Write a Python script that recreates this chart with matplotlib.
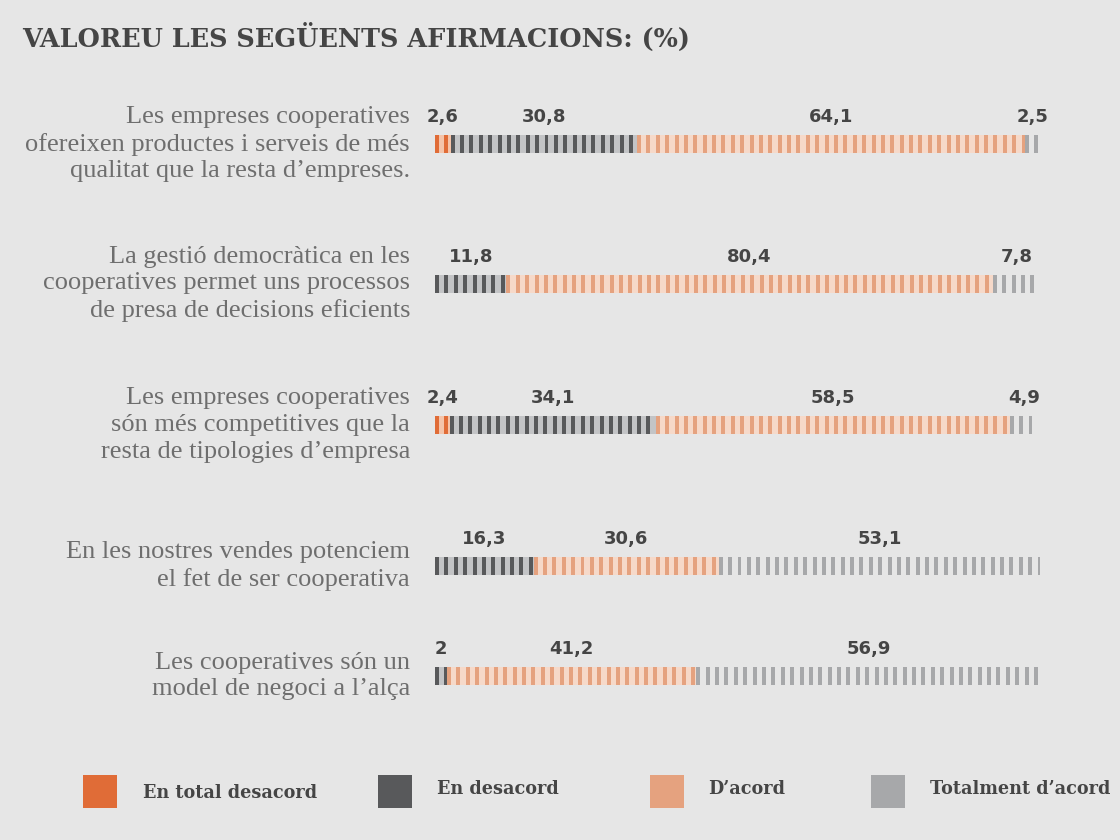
import numpy as np
import matplotlib
import matplotlib.pyplot as plt

matplotlib.use("Agg")

TITLE = "VALOREU LES SEGÜENTS AFIRMACIONS: (%)"

statements = [
    "Les empreses cooperatives\nofereixen productes i serveis de més\nqualitat que la resta d’empreses.",
    "La gestió democràtica en les\ncooperatives permet uns processos\nde presa de decisions eficients",
    "Les empreses cooperatives\nsón més competitives que la\nresta de tipologies d’empresa",
    "En les nostres vendes potenciem\nel fet de ser cooperativa",
    "Les cooperatives són un\nmodel de negoci a l’alça",
]

categories = ["En total desacord", "En desacord", "D’acord", "Totalment d’acord"]

# one list per category, one value per statement (None = not shown)
total_desacord = [2.6, None, 2.4, None, None]
desacord = [30.8, 11.8, 34.1, 16.3, 2]
acord = [64.1, 80.4, 58.5, 30.6, 41.2]
totalment = [2.5, 7.8, 4.9, 53.1, 56.9]

value_labels = [
    ["2,6", None, "2,4", None, None],
    ["30,8", "11,8", "34,1", "16,3", "2"],
    ["64,1", "80,4", "58,5", "30,6", "41,2"],
    ["2,5", "7,8", "4,9", "53,1", "56,9"],
]

colors = ["#e06c37", "#58595b", "#e5a27f", "#a7a8aa"]
tints = ["#f4c4aa", "#c3c4c6", "#f6d9c9", "#dcdcdc"]
BG = "#e6e6e6"
TEXT = "#454545"

# layout (pixels)
W, H = 1120, 840
BAR_X0, BAR_X1 = 435, 1040
row_y = [144, 284, 425, 566, 676]
BAR_H = 18
PERIOD = 1.55   # stripe period in %
STRIPE = 0.66   # stripe width in %

fig = plt.figure(figsize=(W / 100, H / 100), dpi=100, facecolor=BG)
ax = fig.add_axes([BAR_X0 / W, 0, (BAR_X1 - BAR_X0) / W, 1])
ax.set_xlim(0, 100)
ax.set_ylim(H, 0)
ax.axis("off")

series = [total_desacord, desacord, acord, totalment]

for i, y in enumerate(row_y):
    left = 0.0
    for c, vals in enumerate(series):
        v = vals[i]
        if v is None:
            continue
        tint = BG if c == 3 else tints[c]
        ax.barh(y, v, left=left, height=BAR_H, color=tint, linewidth=0)
        xs = np.arange(left, left + v - STRIPE * 0.5, PERIOD)
        ax.barh([y] * len(xs), STRIPE, left=xs, height=BAR_H, color=colors[c], linewidth=0)
        lab = value_labels[c][i]
        ax.text(left + v / 2, y - 27, lab, ha="center", va="center",
                fontsize=13, fontweight="bold", family="DejaVu Sans", color=TEXT)
        left += v
    fig.text(410 / W, 1 - y / H, statements[i], ha="right", va="center",
             fontsize=19, family="Liberation Serif", color="#6e6e6e", linespacing=1.27)

fig.text(22 / W, 1 - 37 / H, TITLE, ha="left", va="center", fontsize=18.4,
         fontweight="bold", family="DejaVu Serif", color=TEXT)

# legend
leg_box_x = [83, 378, 650, 871]
leg_text_x = [143, 437, 708, 930]
leg_text_y = [793, 789, 789, 789]
for c in range(4):
    fig.patches.append(plt.Rectangle((leg_box_x[c] / W, 1 - 808 / H), 34 / W, 33 / H,
                                     transform=fig.transFigure, color=colors[c], linewidth=0))
    fig.text(leg_text_x[c] / W, 1 - leg_text_y[c] / H, categories[c], ha="left", va="center",
             fontsize=12.7, fontweight="bold", family="DejaVu Serif", color=TEXT)

fig.savefig("out.png", dpi=100, facecolor=BG)
